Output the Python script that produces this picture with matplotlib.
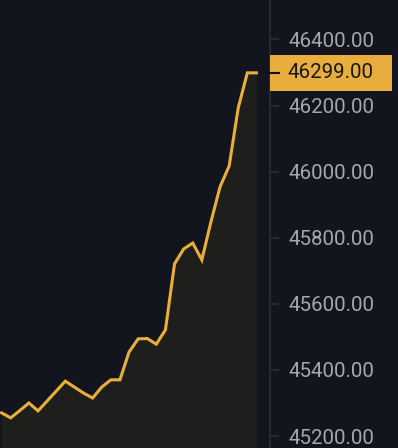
from matplotlib import pyplot as plt
from matplotlib.patches import Rectangle
from matplotlib.transforms import blended_transform_factory
import numpy as np

# closing prices, one per candle
prices = [45270, 45255, 45277, 45300, 45276, 45306, 45336, 45366, 45348, 45330,
          45315, 45348, 45370, 45370, 45454, 45494, 45495, 45478, 45521, 45721,
          45766, 45784, 45733, 45848, 45954, 46017, 46193, 46299, 46299]
last_price = 46299.00
y_ticks = [45200, 45400, 45600, 45800, 46000, 46200, 46400]

bg = '#12151d'
line_color = '#eaaf3a'
grid_color = '#2a2e39'
label_color = '#a5a8b0'

plt.rcParams['font.family'] = ['Roboto', 'DejaVu Sans']

f = plt.figure(figsize=(3.98, 4.48), dpi=100)
f.patch.set_facecolor(bg)
ax = f.add_axes([0, 0, 270 / 398, 1])
ax.set_facecolor(bg)

x = np.arange(len(prices))
ax.plot(x, prices, color=line_color, lw=2.2, solid_joinstyle='miter', zorder=3)
ax.fill_between(x, prices, 45000, color='#f0b90b', alpha=0.055, lw=0, zorder=2)

ax.set_xlim(-0.176, 29.49)
ax.set_ylim(45163.7, 46519.5)

for s in ['left', 'top', 'bottom']:
    ax.spines[s].set_visible(False)
ax.spines['right'].set_color(grid_color)
ax.spines['right'].set_linewidth(1.2)
ax.set_xticks([])
ax.yaxis.tick_right()
ax.set_yticks(y_ticks)
ax.set_yticklabels(['%.2f' % t for t in y_ticks])
ax.tick_params(axis='y', length=6.5, width=1.2, color=grid_color, pad=6.5,
               labelsize=14.8, labelcolor=label_color)

# last price marker on the axis
tr = blended_transform_factory(ax.transAxes, ax.transData)
box_h = 36 * (46519.5 - 45163.7) / 448
ax.add_patch(Rectangle((1.0, last_price - box_h / 2), 122 / 270, box_h, transform=tr,
                       facecolor='#e9ad3d', edgecolor='none', clip_on=False, zorder=5))
ax.plot([1.0, 1.0 + 9 / 270], [last_price, last_price], transform=tr, color='#111111',
        lw=1.5, clip_on=False, zorder=6)
ax.text(1.0 + 18 / 270, last_price, '%.2f' % last_price, transform=tr, ha='left', va='center',
        fontsize=14.8, color='#15171c', zorder=6)

f.savefig('out.png', facecolor=bg)
